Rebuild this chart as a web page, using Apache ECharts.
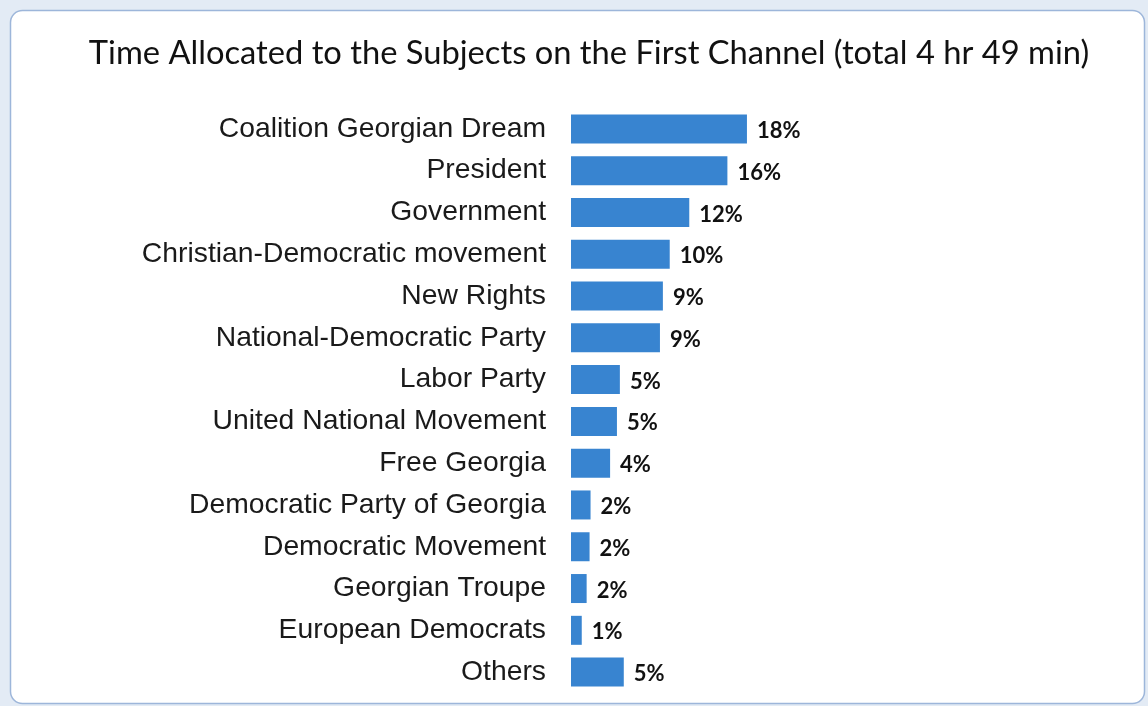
<!DOCTYPE html>
<html>
<head>
<meta charset="utf-8">
<script src="https://cdn.jsdelivr.net/npm/echarts@6/dist/echarts.min.js"></script>
<style>
html,body{margin:0;padding:0;background:#e3ebf5;}
#chart{width:1148px;height:706px;}
</style>
</head>
<body>
<div id="chart"></div>
<script>
const titleText = 'Time Allocated to the Subjects on the First Channel (total 4 hr 49 min)';
const categories = [
  'Coalition Georgian Dream',
  'President',
  'Government',
  'Christian-Democratic movement',
  'New Rights',
  'National-Democratic Party',
  'Labor Party',
  'United National Movement',
  'Free Georgia',
  'Democratic Party of Georgia',
  'Democratic Movement',
  'Georgian Troupe',
  'European Democrats',
  'Others'
];
const shares = [18.0, 16.0, 12.1, 10.1, 9.4, 9.1, 5.0, 4.7, 4.0, 2.0, 1.9, 1.6, 1.1, 5.4];
const shareLabels = ['18%','16%','12%','10%','9%','9%','5%','5%','4%','2%','2%','2%','1%','5%'];

const chart = echarts.init(document.getElementById('chart'));
chart.setOption({
  animation: false,
  backgroundColor: 'transparent',
  graphic: [{
    type: 'rect', z: -10,
    shape: { x: 10.5, y: 10.5, width: 1134, height: 693, r: 12 },
    style: { fill: '#ffffff', stroke: '#9db6da', lineWidth: 1.5 }
  }],
  title: {
    text: titleText,
    left: 584, top: 32, textAlign: 'center',
    textStyle: { fontFamily: 'Lato', fontWeight: 'normal', fontSize: 32.7, color: '#111111' }
  },
  grid: { left: 571, top: 108, bottom: 13, width: 391, containLabel: false },
  xAxis: {
    type: 'value', min: 0, max: 40, show: false
  },
  yAxis: {
    type: 'category', data: categories, inverse: true,
    axisLine: { show: false }, axisTick: { show: false },
    axisLabel: { margin: 25, padding: [4, 0, 0, 0], fontFamily: 'Liberation Sans', fontSize: 28.3, color: '#1a1a1a' }
  },
  series: [{
    type: 'bar', data: shares, barWidth: 29,
    itemStyle: { color: '#3884d0' },
    label: {
      show: true, position: 'right', distance: 10, offset: [0, 2],
      formatter: p => shareLabels[p.dataIndex],
      fontFamily: 'Lato', fontWeight: 'bold', fontSize: 22, color: '#111111'
    }
  }]
});
</script>
</body>
</html>
